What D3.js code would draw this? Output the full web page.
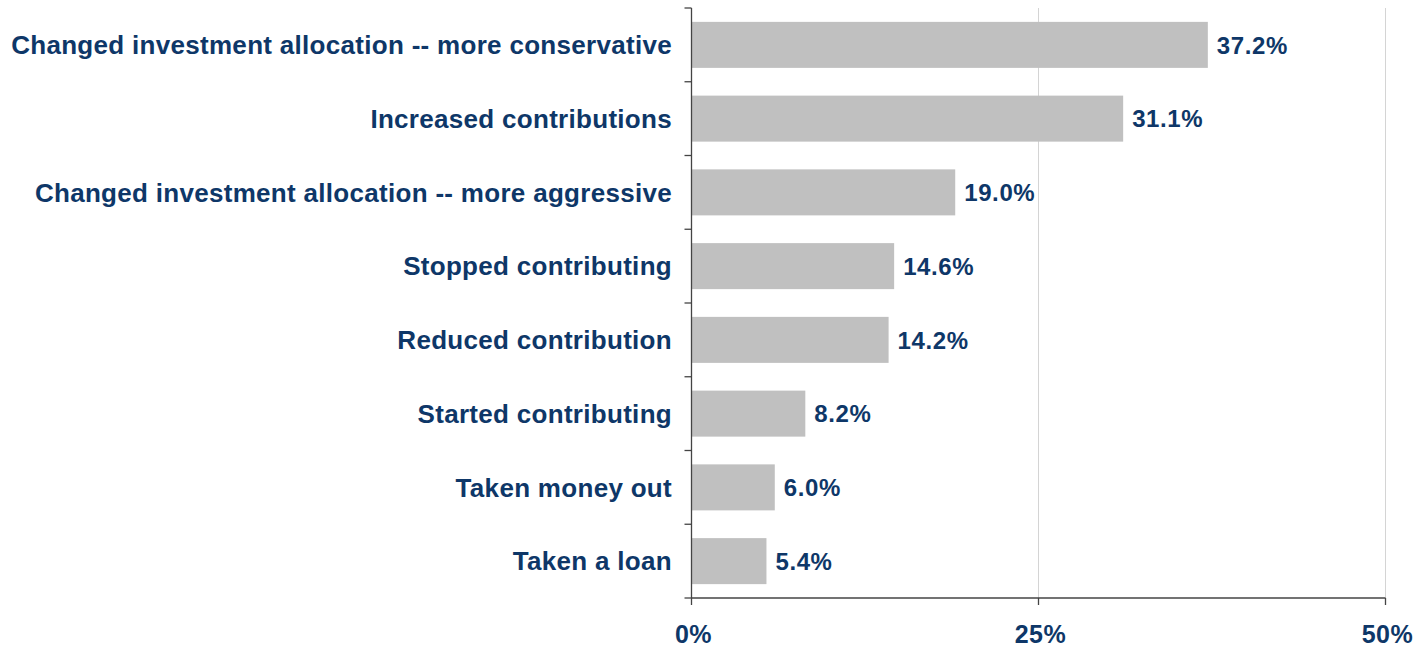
<!DOCTYPE html>
<html>
<head>
<meta charset="utf-8">
<script src="https://cdn.jsdelivr.net/npm/d3@7"></script>
<style>
  html, body { margin: 0; padding: 0; background: #fff; }
  svg text { font-family: "Liberation Sans", Arial, sans-serif; font-weight: bold; fill: #0e3768; }
</style>
</head>
<body>
<svg id="chart" width="1416" height="647"></svg>
<script>
const categories = [
  "Changed investment allocation -- more conservative",
  "Increased contributions",
  "Changed investment allocation -- more aggressive",
  "Stopped contributing",
  "Reduced contribution",
  "Started contributing",
  "Taken money out",
  "Taken a loan"
];
const values = [37.2, 31.1, 19.0, 14.6, 14.2, 8.2, 6.0, 5.4];
const xTicks = [0, 25, 50];
const xTickLabels = ["0%", "25%", "50%"];

const svg = d3.select("#chart");
const plotLeft = 691.5, plotRight = 1385.5, plotTop = 8, plotBottom = 598;

const x = d3.scaleLinear().domain([0, 50]).range([plotLeft, plotRight]);
const y = d3.scaleBand().domain(categories).range([plotTop, plotBottom]).paddingInner(0.376).paddingOuter(0.188);

// gridlines
svg.append("g").selectAll("line").data(xTicks.filter(d => d > 0)).join("line")
  .attr("x1", d => x(d)).attr("x2", d => x(d))
  .attr("y1", plotTop).attr("y2", plotBottom)
  .attr("stroke", "#d4d4d4").attr("stroke-width", 1);

// bars
svg.append("g").selectAll("rect").data(values).join("rect")
  .attr("x", x(0))
  .attr("y", (d, i) => y(categories[i]))
  .attr("width", d => x(d) - x(0))
  .attr("height", y.bandwidth())
  .attr("fill", "#c0c0c0");

// value labels
svg.append("g").selectAll("text").data(values).join("text")
  .attr("x", d => x(d) + 9)
  .attr("y", (d, i) => y(categories[i]) + y.bandwidth() / 2)
  .attr("dy", "0.36em")
  .style("font-size", "24px")
  .style("letter-spacing", "0.6px")
  .text(d => d.toFixed(1) + "%");

// y axis: ticks at band boundaries
const yBoundaries = d3.range(categories.length + 1).map(i => plotTop + i * y.step());
const yAxisG = svg.append("g");
yAxisG.append("line").attr("x1", plotLeft).attr("x2", plotLeft).attr("y1", plotTop).attr("y2", plotBottom)
  .attr("stroke", "#444").attr("stroke-width", 1.3);
yAxisG.selectAll("line.tick").data(yBoundaries).join("line").attr("class", "tick")
  .attr("x1", plotLeft - 7).attr("x2", plotLeft).attr("y1", d => d).attr("y2", d => d)
  .attr("stroke", "#444").attr("stroke-width", 1.3);

// category labels
svg.append("g").selectAll("text").data(categories).join("text")
  .attr("x", 672)
  .attr("y", d => y(d) + y.bandwidth() / 2)
  .attr("dy", "0.36em")
  .attr("text-anchor", "end")
  .style("font-size", "26px")
  .style("letter-spacing", "0.3px")
  .text(d => d);

// x axis
const xAxisG = svg.append("g");
xAxisG.append("line").attr("x1", plotLeft).attr("x2", plotRight).attr("y1", plotBottom).attr("y2", plotBottom)
  .attr("stroke", "#444").attr("stroke-width", 1.3);
xAxisG.selectAll("line.tick").data(xTicks).join("line").attr("class", "tick")
  .attr("x1", d => x(d)).attr("x2", d => x(d)).attr("y1", plotBottom).attr("y2", plotBottom + 7)
  .attr("stroke", "#444").attr("stroke-width", 1.3);
xAxisG.selectAll("text").data(xTicks).join("text")
  .attr("x", d => x(d) + 2)
  .attr("y", 643)
  .attr("text-anchor", "middle")
  .style("font-size", "25px")
  .style("letter-spacing", "0.5px")
  .text((d, i) => xTickLabels[i]);
</script>
</body>
</html>
